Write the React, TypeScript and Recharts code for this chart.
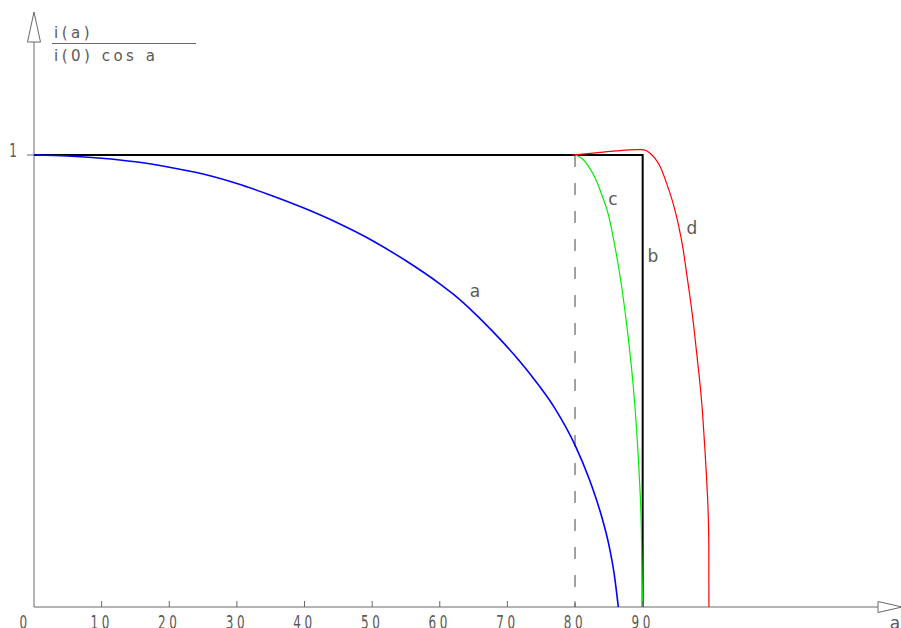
import {
  Customized,
  Line,
  LineChart,
  ReferenceDot,
  ReferenceLine,
  XAxis,
  YAxis,
} from "recharts";

const X_TICKS = [0, 10, 20, 30, 40, 50, 60, 70, 80, 90];
const Y_TICKS = [1];

// curve a (blue)
const A_ANGLE = [0, 5, 10, 15, 20, 25, 30, 35, 40, 45, 50, 55, 60, 62, 65, 68, 71, 74, 77, 80, 82, 83, 84, 85, 85.8, 86.4];
const A_VALUE = [1, 0.998, 0.993, 0.985, 0.973, 0.958, 0.937, 0.911, 0.882, 0.849, 0.811, 0.766, 0.715, 0.692, 0.652, 0.607, 0.558, 0.503, 0.44, 0.358, 0.287, 0.245, 0.197, 0.138, 0.072, 0];

// curve b (black step)
const B_ANGLE = [0, 90, 90];
const B_VALUE = [1, 1, 0];

// curve c (green)
const C_ANGLE = [80, 81, 82, 83.2, 84, 84.9, 85.9, 86.9, 87.9, 88.6, 89.2, 89.5, 89.8, 90];
const C_VALUE = [1, 0.993, 0.975, 0.942, 0.91, 0.87, 0.798, 0.708, 0.592, 0.49, 0.37, 0.29, 0.177, 0];

// curve d (red)
const D_ANGLE = [79.5, 82.7, 86, 89, 89.8, 90.5, 91.1, 91.8, 92.6, 93.55, 94.5, 95.3, 96, 96.5, 97, 97.5, 98, 98.5, 98.85, 99.2, 99.5, 99.7, 99.78, 99.8];
const D_VALUE = [1, 1.004, 1.009, 1.012, 1.012, 1.01, 1.004, 0.993, 0.974, 0.937, 0.893, 0.845, 0.79, 0.738, 0.686, 0.628, 0.56, 0.49, 0.43, 0.35, 0.27, 0.2, 0.14, 0];

// dashed marker at 80
const DASH_ANGLE = [80, 80];
const DASH_VALUE = [1, 0];

const X_MAX = 128.2;
const Y_MAX = 1.343;
const X_ARROW = 124.8;
const Y_ARROW = 1.25;

const zip = (xs: number[], ys: number[]) => xs.map((x, i) => ({ x, y: ys[i] }));

const AXIS_GREY = "#6a6a6a";
const TEXT_GREY = "#5a5a5a";
const FONT = "'DejaVu Sans', sans-serif";

function XTick({ x, y, payload }: any) {
  const v = payload.value;
  const dx = v === 0 ? -9 : 0;
  return (
    <g>
      {v !== 0 && <line x1={x} x2={x} y1={y - 6} y2={y} stroke={AXIS_GREY} />}
      <text
        transform={`translate(${x + dx},${y + 22}) scale(0.6,1)`}
        textAnchor="middle"
        fontFamily={FONT}
        fontSize={20}
        letterSpacing={6}
        fill={TEXT_GREY}
      >
        {v}
      </text>
    </g>
  );
}

function YTick({ x, y, payload }: any) {
  return (
    <g>
      <line x1={x - 7} x2={x} y1={y} y2={y} stroke={AXIS_GREY} />
      <text
        transform={`translate(${x - 21},${y + 2}) scale(0.6,1)`}
        textAnchor="middle"
        fontFamily={FONT}
        fontSize={20}
        fill={TEXT_GREY}
      >
        {payload.value}
      </text>
    </g>
  );
}

function UpArrow({ cx, cy }: any) {
  return (
    <polygon
      points={`${cx - 6.5},${cy} ${cx + 6.5},${cy} ${cx},${cy - 30}`}
      fill="#fff"
      stroke={AXIS_GREY}
    />
  );
}

function RightArrow({ cx, cy }: any) {
  return (
    <polygon
      points={`${cx},${cy - 5.5} ${cx},${cy + 5.5} ${cx + 24},${cy}`}
      fill="#fff"
      stroke={AXIS_GREY}
    />
  );
}

function Annotations() {
  const t = { fontFamily: FONT, fill: TEXT_GREY, letterSpacing: 3.5 };
  const lbl = { fontSize: 17, textAnchor: "middle" as const, fontFamily: FONT, fill: TEXT_GREY };
  return (
    <g>
      <text x={54} y={38} fontSize={15} {...t}>i(a)</text>
      <line x1={52} x2={196} y1={43.5} y2={43.5} stroke={AXIS_GREY} />
      <text x={54} y={61} fontSize={15} {...t}>i(0) cos a</text>
      <text x={475} y={297} {...lbl}>a</text>
      <text x={653} y={262} {...lbl}>b</text>
      <text x={613} y={205} {...lbl}>c</text>
      <text x={692} y={234} {...lbl}>d</text>
      <text x={895} y={629} {...lbl}>a</text>
    </g>
  );
}

export default function App() {
  return (
    <div style={{ position: "absolute", left: 0, top: 0, background: "#fff" }}>
      <LineChart width={901} height={628} margin={{ top: 0, right: 0, bottom: 0, left: 0 }}>
        <XAxis
          type="number"
          dataKey="x"
          domain={[0, X_MAX]}
          ticks={X_TICKS}
          allowDataOverflow
          height={21}
          axisLine={false}
          tickLine={false}
          tickSize={0}
          tickMargin={0}
          tick={<XTick />}
          interval={0}
        />
        <YAxis
          type="number"
          dataKey="y"
          domain={[0, Y_MAX]}
          ticks={Y_TICKS}
          allowDataOverflow
          width={34}
          axisLine={false}
          tickLine={false}
          tickSize={0}
          tickMargin={0}
          tick={<YTick />}
        />
        <ReferenceLine segment={[{ x: 0, y: 0 }, { x: X_ARROW, y: 0 }]} stroke={AXIS_GREY} ifOverflow="visible" />
        <ReferenceLine segment={[{ x: 0, y: 0 }, { x: 0, y: Y_ARROW }]} stroke={AXIS_GREY} ifOverflow="visible" />
        <ReferenceDot x={0} y={Y_ARROW} shape={<UpArrow />} ifOverflow="visible" />
        <ReferenceDot x={X_ARROW} y={0} shape={<RightArrow />} ifOverflow="visible" />
        <Line data={zip(B_ANGLE, B_VALUE)} dataKey="y" type="linear" stroke="#000" strokeWidth={2} dot={false} isAnimationActive={false} />
        <Line data={zip(DASH_ANGLE, DASH_VALUE)} dataKey="y" type="linear" stroke="#444" strokeWidth={1} strokeDasharray="12 16" dot={false} isAnimationActive={false} />
        <Line data={zip(A_ANGLE, A_VALUE)} dataKey="y" type="monotone" stroke="#0000ff" strokeWidth={1.6} dot={false} isAnimationActive={false} />
        <Line data={zip(C_ANGLE, C_VALUE)} dataKey="y" type="monotone" stroke="#00ee00" strokeWidth={1.2} dot={false} isAnimationActive={false} />
        <Line data={zip(D_ANGLE, D_VALUE)} dataKey="y" type="monotone" stroke="#ff0000" strokeWidth={1.2} dot={false} isAnimationActive={false} />
        <Customized component={Annotations} />
      </LineChart>
    </div>
  );
}
